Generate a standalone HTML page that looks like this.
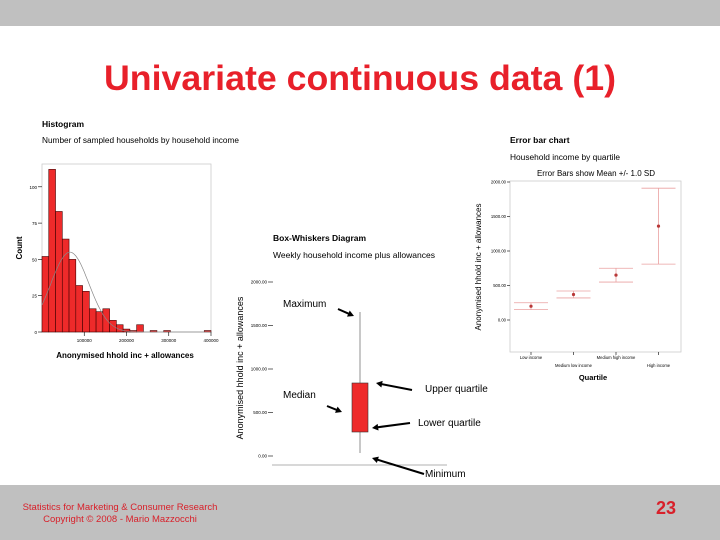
<!DOCTYPE html>
<html><head><meta charset="utf-8"><style>
html,body{margin:0;padding:0;background:#fff}
svg{display:block;font-family:"Liberation Sans",sans-serif}
</style></head><body>
<svg id="s" width="720" height="540" viewBox="0 0 720 540">
<rect x="0" y="0" width="720" height="26" fill="#c0c0c0"/>
<rect x="0" y="485" width="720" height="55" fill="#c0c0c0"/>
<text x="360" y="90" text-anchor="middle" font-size="35" font-weight="bold" fill="#e8202a" textLength="512" lengthAdjust="spacingAndGlyphs">Univariate continuous data (1)</text>
<text x="120" y="510" text-anchor="middle" font-size="9.5" fill="#d8202a">Statistics for Marketing &amp; Consumer Research</text>
<text x="120" y="522" text-anchor="middle" font-size="9.5" fill="#d8202a">Copyright © 2008 - Mario Mazzocchi</text>
<text x="666" y="514" text-anchor="middle" font-size="18" font-weight="bold" fill="#d8202a">23</text>

<!-- Histogram -->
<g id="hist">
<text x="42" y="127" font-size="8.5" font-weight="bold">Histogram</text>
<text x="42" y="143" font-size="8" textLength="197" lengthAdjust="spacingAndGlyphs">Number of sampled households by household income</text>
<rect x="42" y="164" width="169" height="168" fill="none" stroke="#ccc" stroke-width="0.8"/>
<text transform="translate(22,248) rotate(-90)" text-anchor="middle" font-size="8" font-weight="bold">Count</text>
<text x="125" y="358" text-anchor="middle" font-size="8" font-weight="bold">Anonymised hhold inc + allowances</text>
</g>

<!-- Box plot -->
<g id="box">
<text x="273" y="241" font-size="8.5" font-weight="bold">Box-Whiskers Diagram</text>
<text x="273" y="258" font-size="8.5" textLength="162" lengthAdjust="spacingAndGlyphs">Weekly household income plus allowances</text>
<text transform="translate(243,368) rotate(-90)" text-anchor="middle" font-size="9">Anonymised hhold inc + allowances</text>
<line x1="272" y1="465" x2="447" y2="465" stroke="#999" stroke-width="0.8"/>
</g>

<!-- Error bars -->
<g id="err">
<text x="510" y="143" font-size="8.5" font-weight="bold">Error bar chart</text>
<text x="510" y="160" font-size="8" textLength="110" lengthAdjust="spacingAndGlyphs">Household income by quartile</text>
<text x="596" y="176" text-anchor="middle" font-size="8">Error Bars show Mean +/- 1.0 SD</text>
<rect x="510" y="181" width="171" height="171" fill="none" stroke="#ccc" stroke-width="0.8"/>
<text transform="translate(481,267) rotate(-90)" text-anchor="middle" font-size="8">Anonymised hhold inc + allowances</text>
<text x="593" y="380" text-anchor="middle" font-size="7.5" font-weight="bold">Quartile</text>
</g>

<!-- annotations -->
<g font-size="10">
<text x="283" y="307">Maximum</text>
<text x="283" y="398">Median</text>
<text x="425" y="392">Upper quartile</text>
<text x="418" y="426">Lower quartile</text>
<text x="425" y="477">Minimum</text>
</g>
</svg>
<script>
const NS='http://www.w3.org/2000/svg';
function mk(parent,tag,attrs){const e=document.createElementNS(NS,tag);for(const k in attrs)e.setAttribute(k,attrs[k]);parent.appendChild(e);return e;}

// ---- Histogram data ----
const histCounts=[52,112,83,64,50,32,28,16,14,16,8,5,2,1,5,0,1,0,1,0,0,0,0,0,1];
const histBinWidth=16000;
const histYTicks=[0,25,50,75,100];
const histXTicks=[100000,200000,300000,400000];
const histXTickLabels=['100000','200000','300000','400000'];
const histMean=66000, histSD=45000, histPeak=55;

const H=document.getElementById('hist');
const hx=v=>42+v*(169/400000);
const hy=c=>332-c*(36.3/25);
histCounts.forEach((c,i)=>{
  if(c<=0)return;
  const r=mk(H,'rect',{x:hx(i*histBinWidth),y:hy(c),width:hx((i+1)*histBinWidth)-hx(i*histBinWidth),height:332-hy(c),fill:'#ee2a2a',stroke:'#400',"stroke-width":0.6});
  
  
});
let d='';
for(let v=0;v<=400000;v+=4000){
  const z=(v-histMean)/histSD;
  const c=histPeak*Math.exp(-z*z/2);
  d+=(v?'L':'M')+hx(v).toFixed(1)+','+hy(c).toFixed(1);
}
const nc=mk(H,'path',{d:d,fill:'none',stroke:'#888',"stroke-width":0.7});


histYTicks.forEach(t=>{
  mk(H,'line',{x1:38,x2:42,y1:hy(t),y2:hy(t),stroke:'#000',"stroke-width":0.6});
  const tx=mk(H,'text',{x:37,y:hy(t)+2,"text-anchor":'end',"font-size":4.5});
  tx.textContent=t;
  
  
});
histXTicks.forEach((t,i)=>{
  mk(H,'line',{x1:hx(t),x2:hx(t),y1:332,y2:336,stroke:'#000',"stroke-width":0.6});
  const tx=mk(H,'text',{x:hx(t),y:342,"text-anchor":'middle',"font-size":4.5});
  tx.textContent=histXTickLabels[i];
  
  
});

// ---- Box plot data ----
const boxStats=[34,276,839,1655]; // min, q1, q3, max
const boxYTicks=[0,500,1000,1500,2000];
const boxYTickLabels=['0.00','500.00','1000.00','1500.00','2000.00'];
const B=document.getElementById('box');
const by=v=>456-v*(43.5/500);
const bcx=360;
const wl=mk(B,'line',{x1:bcx,x2:bcx,y1:by(boxStats[3]),y2:by(boxStats[0]),stroke:'#777',"stroke-width":0.8});


const br=mk(B,'rect',{x:bcx-8,y:by(boxStats[2]),width:16,height:by(boxStats[1])-by(boxStats[2]),fill:'#ee2a2a',stroke:'#333',"stroke-width":0.6});


boxYTicks.forEach((t,i)=>{
  mk(B,'line',{x1:268,x2:273,y1:by(t),y2:by(t),stroke:'#000',"stroke-width":0.6});
  const tx=mk(B,'text',{x:267,y:by(t)+1.5,"text-anchor":'end',"font-size":4.5});
  tx.textContent=boxYTickLabels[i];
  
  
});

// ---- Error bar data ----
const errCats=['Low income','Medium low income','Medium high income','High income'];
const errMeans=[200,370,650,1360];
const errSDs=[50,50,100,550];
const errYTicks=[0,500,1000,1500,2000];
const errYTickLabels=['0.00','500.00','1000.00','1500.00','2000.00'];
const E=document.getElementById('err');
const ey=v=>320-v*(34.5/500);
const ex=i=>531+i*42.5;
errCats.forEach((c,i)=>{
  const x=ex(i),hi=ey(errMeans[i]+errSDs[i]),lo=ey(errMeans[i]-errSDs[i]);
  const g=mk(E,'g',{});
  
  
  mk(g,'line',{x1:x,x2:x,y1:hi,y2:lo,stroke:'#eaa0a0',"stroke-width":0.8});
  mk(g,'line',{x1:x-17,x2:x+17,y1:hi,y2:hi,stroke:'#eaa0a0',"stroke-width":0.8});
  mk(g,'line',{x1:x-17,x2:x+17,y1:lo,y2:lo,stroke:'#eaa0a0',"stroke-width":0.8});
  const p=mk(E,'circle',{cx:x,cy:ey(errMeans[i]),r:1.6,fill:'#b83838'});
  
  
  mk(E,'line',{x1:x,x2:x,y1:352,y2:355,stroke:'#000',"stroke-width":0.6});
  const tx=mk(E,'text',{x:x,y:i%2?367:359,"text-anchor":'middle',"font-size":4.2});
  tx.textContent=c;
  
  
});
errYTicks.forEach((t,i)=>{
  mk(E,'line',{x1:507,x2:510,y1:ey(t),y2:ey(t),stroke:'#000',"stroke-width":0.6});
  const tx=mk(E,'text',{x:506,y:ey(t)+1.5,"text-anchor":'end',"font-size":4.2});
  tx.textContent=errYTickLabels[i];
  
  
});

// ---- arrows ----
const S=document.getElementById('s');
const arrows=[[338,309,354,316],[327,406,342,412],[412,390,376,383],[410,423,372,428],[424,474,372,458]];
arrows.forEach(a=>{
  const [x1,y1,x2,y2]=a;const ang=Math.atan2(y2-y1,x2-x1);
  const l=mk(S,'line',{x1:x1,y1:y1,x2:x2-4*Math.cos(ang),y2:y2-4*Math.sin(ang),stroke:'#000',"stroke-width":2});
  
  
  const p=(d,o)=>[x2-d*Math.cos(ang+o),y2-d*Math.sin(ang+o)];
  const a1=p(7,0.5),a2=p(7,-0.5);
  mk(S,'polygon',{points:`${x2},${y2} ${a1[0]},${a1[1]} ${a2[0]},${a2[1]}`,fill:'#000'});
});
</script>
</body></html>
